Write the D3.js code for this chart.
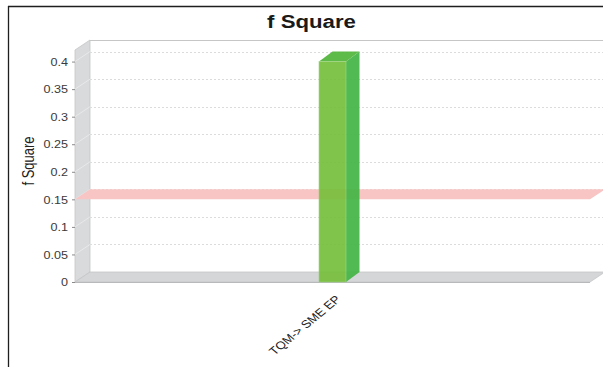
<!DOCTYPE html>
<html><head><meta charset="utf-8">
<script src="https://cdn.jsdelivr.net/npm/d3@7"></script>
<style>body{margin:0;background:#fff;overflow:hidden} svg{display:block}</style>
</head><body>
<script>
const chartTitle = "f Square";
const yAxisLabel = "f Square";
const categories = ["TQM-> SME EP"];
const values = [0.4];
const thresholds = [0.15];
const yTickValues = [0, 0.05, 0.1, 0.15, 0.2, 0.25, 0.3, 0.35, 0.4];
const yTickLabels = ["0", "0.05", "0.1", "0.15", "0.2", "0.25", "0.3", "0.35", "0.4"];

const W = 603, H = 367;
const FONT = "'Liberation Sans', Arial, sans-serif";
const SX = 1.2; // horizontal text stretch seen in reference
const DX = 15, DY = 10;      // wall depth
const BDX = 13.5, BDY = 10;  // bar depth

const svg = d3.select("body").append("svg").attr("width", W).attr("height", H);

const y = d3.scaleLinear().domain([0, 0.421]).range([282, 50]);
const x = d3.scaleBand().domain(categories).range([75, 590]);
const x0 = 75, x1 = 590;
const yBase = y(0), yTop = y.range()[1];

// back wall
svg.append("rect").attr("x", x0 + DX).attr("y", yTop - DY).attr("width", W - x0 - DX + 5)
  .attr("height", yBase - yTop).attr("fill", "#fff");
svg.append("line").attr("x1", x0 + DX).attr("x2", W).attr("y1", yTop - DY + 0.5).attr("y2", yTop - DY + 0.5)
  .attr("stroke", "#c6c6c6");

// side wall
svg.append("path")
  .attr("d", `M${x0},${yBase} L${x0},${yTop} L${x0 + DX},${yTop - DY} L${x0 + DX},${yBase - DY} Z`)
  .attr("fill", "#d9dadc").attr("stroke", "#c4c5c7").attr("stroke-width", 0.8);

// floor
svg.append("path")
  .attr("d", `M${x0},${yBase} L${x0 + DX},${yBase - DY} L${x1 + DX},${yBase - DY} L${x1},${yBase} Z`)
  .attr("fill", "#d5d6d8").attr("stroke", "#c4c5c7").attr("stroke-width", 0.8);
svg.append("line").attr("x1", x0).attr("x2", x1).attr("y1", yBase + 0.5).attr("y2", yBase + 0.5)
  .attr("stroke", "#b8b9bb");

// gridlines
const grid = svg.append("g");
yTickValues.filter(v => v > 0).forEach(v => {
  grid.append("line").attr("x1", x0 + DX).attr("x2", W).attr("y1", Math.round(y(v) - DY) + 0.5)
    .attr("y2", Math.round(y(v) - DY) + 0.5).attr("stroke", "#dcdcdc").attr("stroke-dasharray", "2,2");
  grid.append("line").attr("x1", x0).attr("x2", x0 + DX).attr("y1", y(v)).attr("y2", y(v) - DY)
    .attr("stroke", "#ececec").attr("stroke-width", 0.8);
});

// threshold band (value marker)
thresholds.forEach(t => {
  const yt = y(t);
  svg.append("path")
    .attr("d", `M${x0},${yt} L${x0 + DX},${yt - DY} L${x1 + DX},${yt - DY} L${x1},${yt} Z`)
    .attr("fill", "#f8c4c4");
});

// bars
const barFrac = 27 / 515;
categories.forEach((c, i) => {
  const bw = x.bandwidth() * barFrac;
  const bx = x(c) + (x.bandwidth() - bw) / 2;
  const by = y(values[i]);
  const g = svg.append("g").attr("opacity", 0.92);
  g.append("path")
    .attr("d", `M${bx + bw},${by} L${bx + bw + BDX},${by - BDY} L${bx + bw + BDX},${yBase - BDY} L${bx + bw},${yBase} Z`)
    .attr("fill", "#44b544");
  g.append("path")
    .attr("d", `M${bx},${by} L${bx + BDX},${by - BDY} L${bx + bw + BDX},${by - BDY} L${bx + bw},${by} Z`)
    .attr("fill", "#52b63a");
  g.append("rect").attr("x", bx).attr("y", by).attr("width", bw).attr("height", yBase - by)
    .attr("fill", "#77bf3c").attr("stroke", "#9ad27a").attr("stroke-width", 0.6);
});

// y axis
const yAxis = svg.append("g").attr("transform", `translate(${x0},0)`)
  .call(d3.axisLeft(y).tickValues(yTickValues).tickSize(3).tickFormat((d, i) => yTickLabels[i]));
yAxis.select(".domain").remove();
yAxis.selectAll(".tick line").attr("stroke", "#8a8a8a");
yAxis.selectAll(".tick text")
  .attr("x", 0).attr("dy", "0.35em")
  .attr("transform", `translate(-7,0) scale(${SX},1)`)
  .attr("fill", "#3a3a3a").attr("font-size", 10.5).attr("font-family", FONT);

// x category labels
categories.forEach(c => {
  const cx = x(c) + x.bandwidth() / 2;
  svg.append("text")
    .attr("transform", `translate(${cx + 9},${yBase + 18}) scale(${SX},1) rotate(-45)`)
    .attr("text-anchor", "end").attr("font-size", 11).attr("font-family", FONT).attr("fill", "#222")
    .text(c);
});

// y axis label
svg.append("text")
  .attr("transform", `translate(34,161) scale(${SX},1) rotate(-90)`)
  .attr("text-anchor", "middle").attr("font-size", 13).attr("font-family", FONT).attr("fill", "#222")
  .text(yAxisLabel);

// title
svg.append("text")
  .attr("transform", `translate(311.5,27.5) scale(${SX},1)`)
  .attr("text-anchor", "middle").attr("font-size", 18.5).attr("font-weight", "bold")
  .attr("font-family", FONT).attr("fill", "#1a1a1a")
  .text(chartTitle);

// frame
svg.append("line").attr("x1", 8).attr("x2", W).attr("y1", 6.5).attr("y2", 6.5).attr("stroke", "#1e1e1e").attr("stroke-width", 1.3);
svg.append("line").attr("x1", 8.5).attr("x2", 8.5).attr("y1", 6).attr("y2", H).attr("stroke", "#1e1e1e").attr("stroke-width", 1.3);
</script>
</body></html>
